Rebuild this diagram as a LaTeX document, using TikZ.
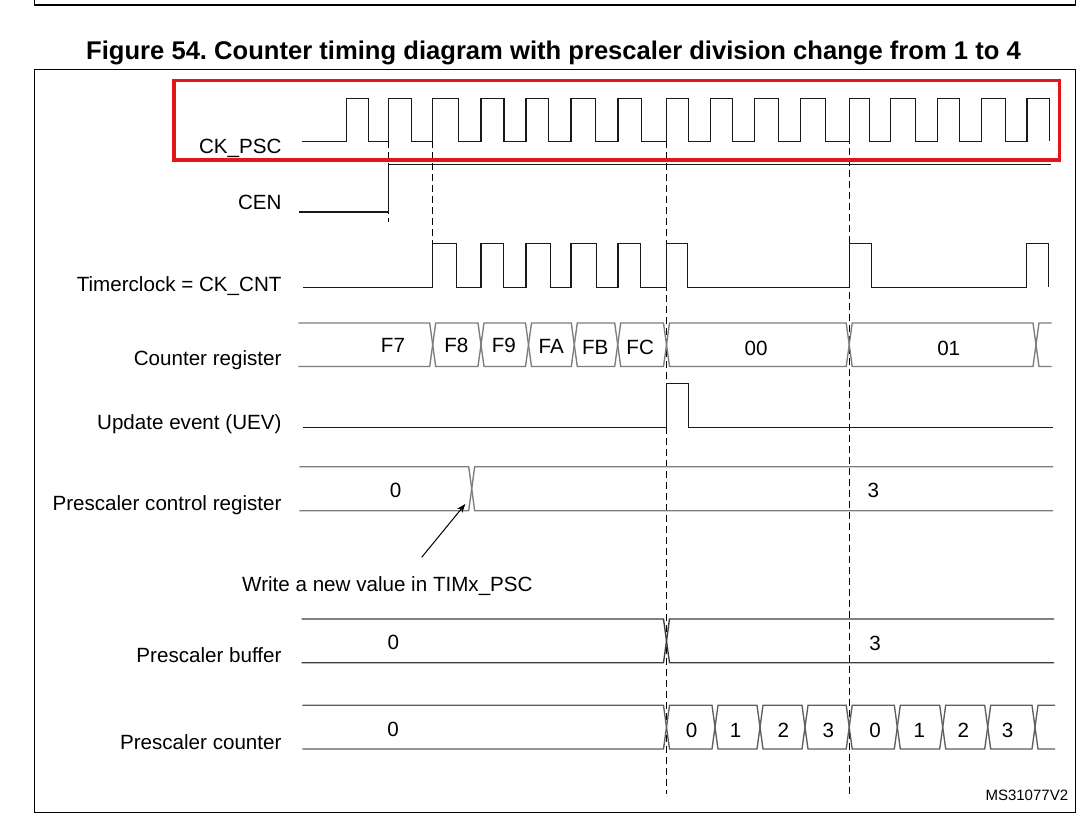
\documentclass[tikz,border=0pt]{standalone}
\usepackage{fontspec}
\setmainfont{Liberation Sans}
\usetikzlibrary{arrows.meta}
\frenchspacing
\definecolor{boxred}{RGB}{226,22,22}
\definecolor{busgray}{RGB}{125,125,125}
\definecolor{busdark}{RGB}{60,60,60}
\definecolor{busmid}{RGB}{95,95,95}
\newcommand\halfw{3}
\newcommand\bushex[5]{\draw[#1] (#4,{(#2+#3)/2}) -- ({#4+\halfw},#2) -- ({#5-\halfw},#2) -- (#5,{(#2+#3)/2}) -- ({#5-\halfw},#3) -- ({#4+\halfw},#3) -- cycle;}
\newcommand\busfirst[5]{\draw[#1] (#4,#2) -- ({#5-\halfw},#2) -- (#5,{(#2+#3)/2}) -- ({#5-\halfw},#3) -- (#4,#3);}
\newcommand\buslast[5]{\draw[#1] (#5,#2) -- ({#4+\halfw},#2) -- (#4,{(#2+#3)/2}) -- ({#4+\halfw},#3) -- (#5,#3);}
\begin{document}
\begin{tikzpicture}[x=1pt,y=-1pt,
  sig/.style={line width=1.35pt, black!90, line join=miter},
  cbus/.style={line width=1.35pt, busgray, line join=miter},
  dbus/.style={line width=1.35pt, busdark, line join=miter},
  mbus/.style={line width=1.35pt, busmid, line join=miter},
  guide/.style={line width=1.2pt, black, dash pattern=on 7pt off 4pt},
  frameline/.style={line width=1.5pt, black},
  lbl/.style={anchor=base east, inner sep=0pt, font=\fontsize{20.6}{24}\selectfont},
  val/.style={anchor=base, inner sep=0pt, font=\fontsize{20.6}{24}\selectfont},
]
\useasboundingbox (0,0) rectangle (1086,818);
\fill[white] (0,0) rectangle (1086,818);

% frames
\draw[frameline] (34.3,0) -- (34.3,5) -- (1075.3,5) -- (1075.3,0);
\draw[frameline] (34.3,69.3) rectangle (1075.5,812.5);

% title
\node[anchor=base west, inner sep=0pt, font=\fontsize{25.6}{30}\selectfont\bfseries] (title) at (86,60)
  {Figure 54. Counter timing diagram with prescaler division change from 1 to 4};

% signal labels
\node[lbl] (lckpsc) at (281.7,153.3) {CK\_PSC};
\node[lbl] (lcen) at (281.7,210) {CEN};
\node[lbl] (ltim) at (281.7,291.7) {Timerclock = CK\_CNT};
\node[lbl] (lcnt) at (281.7,365.7) {Counter register};
\node[lbl] (luev) at (281.7,429) {Update event (UEV)};
\node[lbl] (lpcr) at (281.7,510.7) {Prescaler control register};
\node[lbl] (lpbuf) at (281.7,662.3) {Prescaler buffer};
\node[lbl] (lpcnt) at (281.7,749.3) {Prescaler counter};

% guides
\coordinate (g1a) at (388.5,141.3); \coordinate (g1b) at (388.5,222);
\coordinate (g2a) at (432.7,141.3); \coordinate (g2b) at (432.7,243.3);
\coordinate (g3a) at (666.5,141.3); \coordinate (g3b) at (666.5,793.5);
\coordinate (g4a) at (849.2,137.5); \coordinate (g4b) at (849.2,793.5);
\draw[guide] (g1a) -- (g1b);
\draw[guide] (g2a) -- (g2b);
\draw[guide] (g3a) -- (g3b);
\draw[guide] (g4a) -- (g4b);

% CK_PSC
\draw[sig] (302,141.3) foreach \r/\f in {346.7/368.7, 388.5/411.7, 432.7/458.7, 481/504, 526/548.7, 571/595.7, 618/641.3, 666.5/688.3, 710.3/732.7, 754.7/778.3, 800.3/825.3, 849.2/869.3, 890.3/915.3, 937.7/959.3, 981.7/1005.3, 1027/1049.7} { -- (\r,141.3) -- (\r,98.3) -- (\f,98.3) -- (\f,141.3) };

% CEN
\draw[sig] (299.3,212) -- (388.5,212) -- (388.5,164.3) -- (1050.7,164.3);

% Timerclock
\draw[sig] (303.3,287.3) foreach \r/\f in {432.7/456.3, 481/503.3, 526/550.3, 571/596.3, 618/640.7, 666.5/687.7, 849.2/871.3, 1026.5/1048.3} { -- (\r,287.3) -- (\r,243.3) -- (\f,243.3) -- (\f,287.3) };

% Counter register
\busfirst{cbus}{323}{366.5}{298.3}{432.7}
\foreach \a/\b in {432.7/481, 481/528.5, 528.5/574.3, 574.3/617.7, 617.7/666.5, 666.5/849.2, 849.2/1036} {\bushex{cbus}{323}{366.5}{\a}{\b}}
\buslast{cbus}{323}{366.5}{1036}{1051.7}
\node[val] (vf7) at (393,352.5) {F7};
\node[val] (vf8) at (456.3,352.5) {F8};
\node[val] (vf9) at (503.8,352.5) {F9};
\node[val] (vfa) at (551.3,353) {FA};
\node[val] (vfb) at (595.2,354.3) {FB};
\node[val] (vfc) at (640.2,354.3) {FC};
\node[val] (v00) at (756,355) {00};
\node[val] (v01) at (948.7,355) {01};

% UEV
\draw[sig] (303,427.3) -- (666.5,427.3) -- (666.5,383.3) -- (688.3,383.3) -- (688.3,427.3) -- (1053.3,427.3);

% Prescaler control register
\busfirst{cbus}{466.7}{510.7}{299.3}{471.7}
\buslast{cbus}{466.7}{510.7}{471.7}{1053}
\node[val] (vpc0) at (395.7,497.3) {0};
\node[val] (vpc3) at (873.3,497.3) {3};

% annotation
\node[anchor=base west, inner sep=0pt, font=\fontsize{20.6}{24}\selectfont] (note) at (242,591.7) {Write a new value in TIMx\_PSC};
\coordinate (arrs) at (421.7,557.3);
\coordinate (arre) at (465.3,504);
\draw[line width=1pt, -{Stealth[length=9pt,width=6.5pt]}] (arrs) -- (arre);

% Prescaler buffer
\busfirst{dbus}{619}{662.7}{301.7}{666.5}
\buslast{dbus}{619}{662.7}{666.5}{1054}
\node[val] (vpb0) at (393.3,649.5) {0};
\node[val] (vpb3) at (875,650) {3};

% Prescaler counter
\busfirst{mbus}{705.3}{749}{302.3}{666.5}
\foreach \a/\b in {666.5/715, 715/760, 760/805, 805/849.2, 849.2/897.3, 897.3/942.7, 942.7/987.7, 987.7/1035} {\bushex{mbus}{705.3}{749}{\a}{\b}}
\buslast{mbus}{705.3}{749}{1035}{1055}
\node[val] (vq0) at (393,736) {0};
\node[val] (vq1) at (691.7,737.3) {0};
\node[val] (vq2) at (735.7,737.3) {1};
\node[val] (vq3) at (783.3,737.3) {2};
\node[val] (vq4) at (828.3,737.3) {3};
\node[val] (vq5) at (875,737.3) {0};
\node[val] (vq6) at (919.3,737.3) {1};
\node[val] (vq7) at (963.3,737.3) {2};
\node[val] (vq8) at (1007.7,737.3) {3};

% figure id
\node[anchor=base east, inner sep=0pt, font=\fontsize{15}{18}\selectfont] (figid) at (1068.3,800) {MS31077V2};

% highlight box
\draw[line width=3.2pt, boxred] (174,80.7) rectangle (1059.3,160);
\end{tikzpicture}
\end{document}
